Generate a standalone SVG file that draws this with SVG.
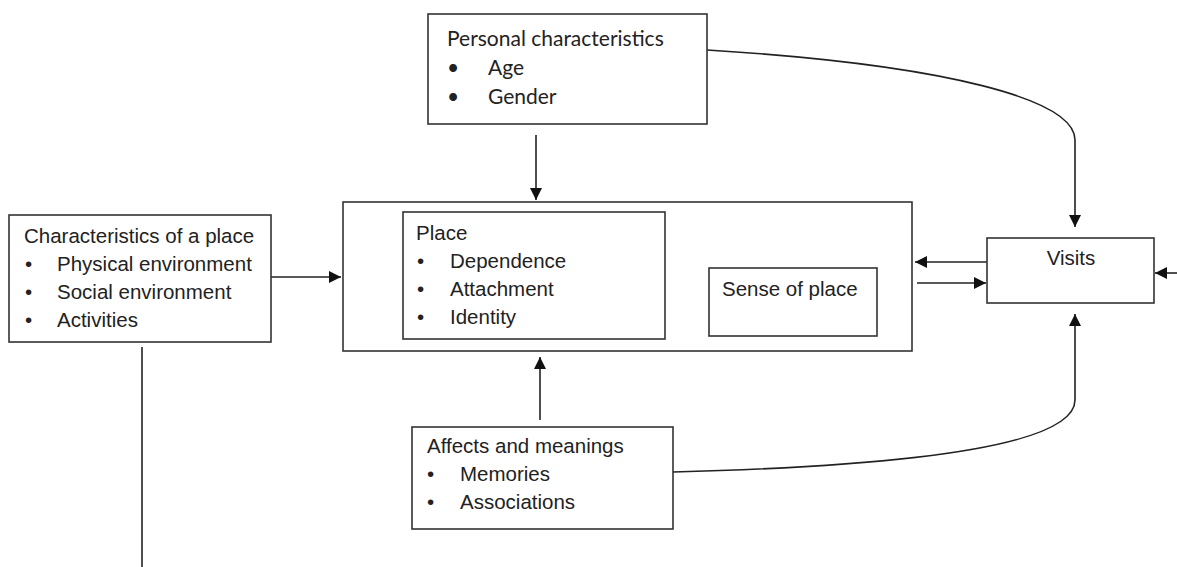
<svg xmlns="http://www.w3.org/2000/svg" width="1177" height="567" viewBox="0 0 1177 567">
<style>
.box{fill:#fff;stroke:#333;stroke-width:1.6}
.t{font-family:"Liberation Sans",Arial,sans-serif;font-size:20.5px;fill:#222}
.c{font-family:Lato,"Open Sans",sans-serif;font-size:21px;fill:#222}
.ln{fill:none;stroke:#222;stroke-width:1.6}
</style>
<defs>
<marker id="ah" viewBox="0 0 10 10" refX="10" refY="5" markerWidth="12" markerHeight="12" markerUnits="userSpaceOnUse" orient="auto">
<path d="M0,0 L10,5 L0,10 z" fill="#111"/>
</marker>
</defs>
<rect width="1177" height="567" fill="#fff"/>
<g id="connectors">
<line class="ln" x1="271" y1="277" x2="341" y2="277" marker-end="url(#ah)"/>
<line class="ln" x1="536" y1="135" x2="536" y2="200" marker-end="url(#ah)"/>
<line class="ln" x1="540" y1="420" x2="540" y2="357" marker-end="url(#ah)"/>
<line class="ln" x1="987" y1="262" x2="915" y2="262" marker-end="url(#ah)"/>
<line class="ln" x1="917" y1="283" x2="986" y2="283" marker-end="url(#ah)"/>
<line class="ln" x1="1177" y1="273" x2="1155" y2="273" marker-end="url(#ah)"/>
<path class="ln" d="M707,50 C950,65 1075,100 1075,140 L1075,227" marker-end="url(#ah)"/>
<path class="ln" d="M673,472 C950,465 1075,440 1075,400 L1075,314" marker-end="url(#ah)"/>
<line class="ln" x1="142" y1="347" x2="142" y2="567"/>
</g>
<g id="node-characteristics">
<rect class="box" x="9" y="215" width="262" height="127"/>
<text class="t" x="24" y="243">Characteristics of a place</text>
<text class="t" x="25" y="271">•</text><text class="t" x="57" y="271">Physical environment</text>
<text class="t" x="25" y="299">•</text><text class="t" x="57" y="299">Social environment</text>
<text class="t" x="25" y="327">•</text><text class="t" x="57" y="327">Activities</text>
</g>
<g id="node-main">
<rect class="box" x="343" y="202" width="569" height="149"/>
</g>
<g id="node-place">
<rect class="box" x="403" y="212" width="262" height="127"/>
<text class="t" x="416" y="240">Place</text>
<text class="t" x="417" y="268">•</text><text class="t" x="450" y="268">Dependence</text>
<text class="t" x="417" y="296">•</text><text class="t" x="450" y="296">Attachment</text>
<text class="t" x="417" y="324">•</text><text class="t" x="450" y="324">Identity</text>
</g>
<g id="node-sense">
<rect class="box" x="709" y="268" width="168" height="68"/>
<text class="t" x="722" y="296">Sense of place</text>
</g>
<g id="node-personal">
<rect class="box" x="428" y="14" width="279" height="110"/>
<text class="c" x="447" y="46">Personal characteristics</text>
<text class="c" x="447" y="75">•</text><text class="c" x="488" y="75">Age</text>
<text class="c" x="447" y="104">•</text><text class="c" x="488" y="104">Gender</text>
</g>
<g id="node-visits">
<rect class="box" x="987" y="238" width="167" height="65"/>
<text class="t" x="1071" y="265" text-anchor="middle">Visits</text>
</g>
<g id="node-affects">
<rect class="box" x="412" y="427" width="261" height="102"/>
<text class="t" x="427" y="453">Affects and meanings</text>
<text class="t" x="427" y="481">•</text><text class="t" x="460" y="481">Memories</text>
<text class="t" x="427" y="509">•</text><text class="t" x="460" y="509">Associations</text>
</g>
</svg>
